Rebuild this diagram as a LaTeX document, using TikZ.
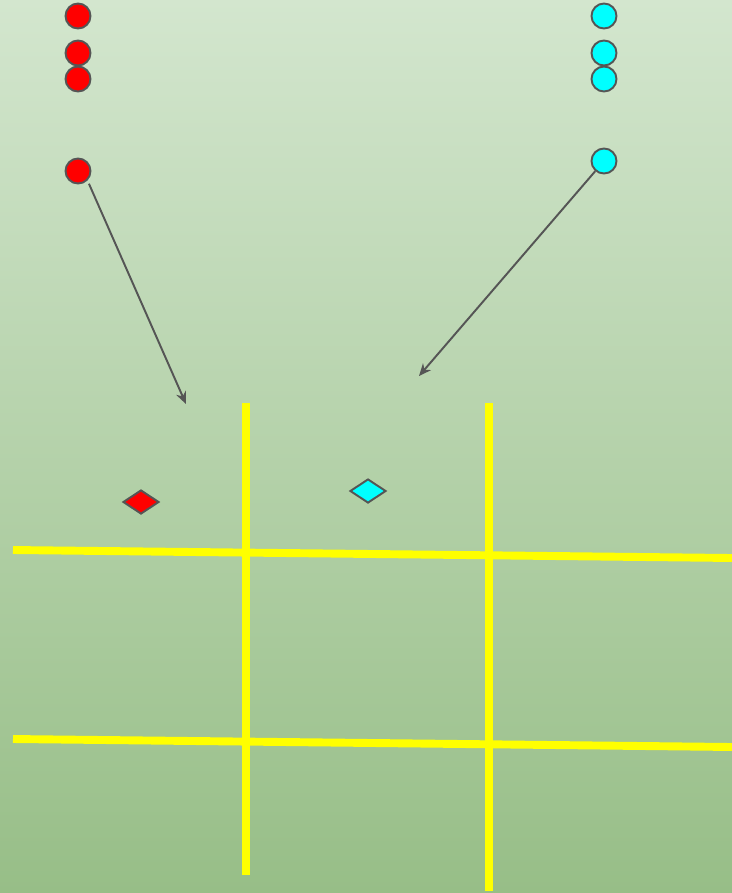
\documentclass[tikz,border=0pt]{standalone}
\usepackage{xcolor}
\usepackage{tikz}
\usetikzlibrary{shapes.geometric, arrows.meta}
\definecolor{BgTop}{RGB}{211,230,206}
\definecolor{BgBot}{RGB}{151,190,135}
\definecolor{EdgeGray}{RGB}{85,85,85}
\definecolor{PieceRed}{RGB}{255,0,0}
\definecolor{PieceCyan}{RGB}{0,255,255}
\definecolor{GridYellow}{RGB}{255,255,0}

\begin{document}
\begin{tikzpicture}[x=0.02cm, y=-0.02cm,
          piece/.style={circle, draw=EdgeGray, line width=1.1pt,
                        minimum size=0.5cm, inner sep=0pt},
          marker/.style={diamond, draw=EdgeGray, line width=1.1pt, aspect=1.46,
                       minimum width=0.72cm, minimum height=0.48cm, inner sep=0pt},
          gridline/.style={GridYellow, line width=4.5pt},
          arr/.style={-{Stealth[length=7pt, width=6pt]}, EdgeGray, line width=1.1pt}
        ]
        \useasboundingbox (0,0) rectangle (732,893);
        \shade[top color=BgTop, bottom color=BgBot] (0,0) rectangle (732,893);

        % board
        \draw[gridline] (246,403) -- (246,875);
        \draw[gridline] (489,403) -- (489,891);
        \draw[gridline] (13,550) -- (732,558);
        \draw[gridline] (13,739) -- (732,747);

        % red pieces
        \node[piece, fill=PieceRed] (r1) at (78,16)  {};
        \node[piece, fill=PieceRed] (r2) at (78,53)  {};
        \node[piece, fill=PieceRed] (r3) at (78,79)  {};
        \node[piece, fill=PieceRed] (r4) at (78,171) {};

        % cyan pieces
        \node[piece, fill=PieceCyan] (c1) at (604,16)  {};
        \node[piece, fill=PieceCyan] (c2) at (604,53)  {};
        \node[piece, fill=PieceCyan] (c3) at (604,79)  {};
        \node[piece, fill=PieceCyan] (c4) at (604,161) {};

        % markers on the board
        \node[marker, fill=PieceRed]  (rmark) at (141,502) {};
        \node[marker, fill=PieceCyan] (cmark) at (368,491) {};

        \coordinate (rtip) at (186,404);
        \coordinate (ctip) at (419,376);
        \draw[arr, shorten <=2pt] (r4.-45) -- (rtip);
        \draw[arr] (c4) -- (ctip);
      \end{tikzpicture}
\end{document}
